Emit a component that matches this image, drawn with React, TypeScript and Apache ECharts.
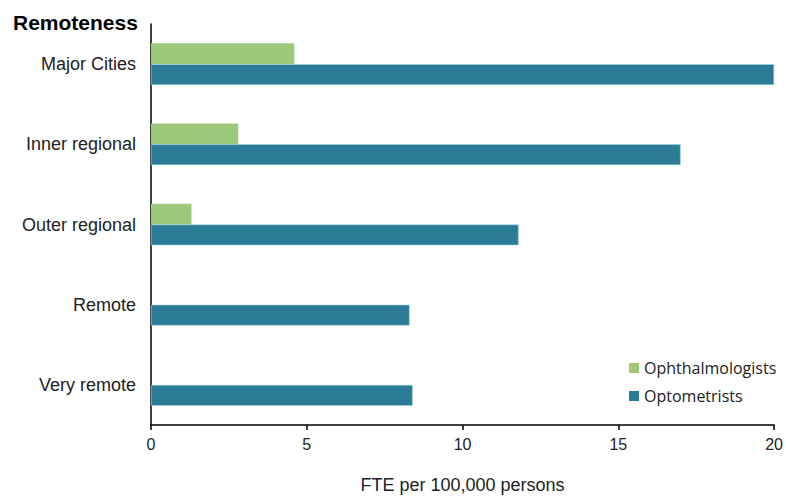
import React, { useEffect, useRef } from "react";
import * as echarts from "echarts";

const categories = ["Major Cities", "Inner regional", "Outer regional", "Remote", "Very remote"];
const ophthalmologists = [4.6, 2.8, 1.3, 0, 0];
const optometrists = [20.0, 17.0, 11.8, 8.3, 8.4];
const xTicks = { min: 0, max: 20, interval: 5 };

export default function App() {
  const ref = useRef<HTMLDivElement>(null);
  useEffect(() => {
    if (!ref.current) return;
    const chart = echarts.init(ref.current, undefined, { renderer: "svg" });
    const font = "'Liberation Sans', Arial, sans-serif";
    chart.setOption({
      animation: false,
      backgroundColor: "#ffffff",
      title: {
        text: "Remoteness",
        left: 13,
        top: 12,
        padding: 0,
        textStyle: { fontFamily: font, fontSize: 21, fontWeight: "bold", color: "#000" },
      },
      legend: {
        orient: "vertical",
        left: 629,
        top: 358,
        padding: 0,
        itemWidth: 10,
        itemHeight: 10,
        itemGap: 8,
        icon: "rect",
        itemStyle: { borderWidth: 0 },
        textStyle: { fontFamily: "'Open Sans', sans-serif", fontSize: 16, color: "#222", lineHeight: 20 },
        data: ["Ophthalmologists", "Optometrists"],
      },
      grid: { left: 151, right: 9, top: 24, bottom: 70 },
      xAxis: {
        type: "value",
        min: xTicks.min,
        max: xTicks.max,
        interval: xTicks.interval,
        name: "FTE per 100,000 persons",
        nameLocation: "middle",
        nameGap: 51,
        nameTextStyle: { fontFamily: font, fontSize: 18, color: "#222" },
        axisLine: { show: true, lineStyle: { color: "#000", width: 1.5 } },
        axisTick: { show: true, length: 5, lineStyle: { color: "#000", width: 1.5 } },
        axisLabel: { fontFamily: font, fontSize: 16, color: "#222", margin: 11 },
        splitLine: { show: false },
      },
      yAxis: {
        type: "category",
        data: categories,
        inverse: true,
        axisLine: { show: true, lineStyle: { color: "#000", width: 1.5 } },
        axisTick: { show: false },
        axisLabel: { fontFamily: font, fontSize: 18, color: "#222", margin: 15 },
      },
      series: [
        {
          name: "Ophthalmologists",
          type: "bar",
          data: ophthalmologists,
          barGap: "0%",
          barCategoryGap: "48%",
          itemStyle: { color: "#9dc97b" },
        },
        {
          name: "Optometrists",
          type: "bar",
          data: optometrists,
          barGap: "0%",
          barCategoryGap: "48%",
          itemStyle: { color: "#2b7b96", borderColor: "#9fd3e0", borderWidth: 0.6 },
        },
      ],
    });
    return () => chart.dispose();
  }, []);
  return <div ref={ref} style={{ position: "fixed", left: 0, top: 0, width: 786, height: 499 }} />;
}
